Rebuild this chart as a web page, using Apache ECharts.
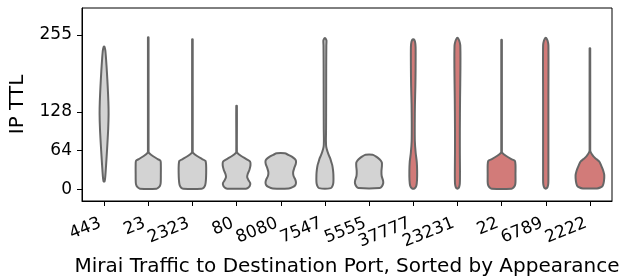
<!DOCTYPE html>
<html>
<head>
<meta charset="utf-8">
<script src="https://cdn.jsdelivr.net/npm/echarts@6/dist/echarts.min.js"></script>
<style>
html,body{margin:0;padding:0;background:#fff;}
#chart{width:627px;height:279px;}
</style>
</head>
<body>
<div id="chart"></div>
<script>
// Destination ports, in order of appearance
const categories = ['443','23','2323','80','8080','7547','5555','37777','23231','22','6789','2222'];
// group of each port: 0 = grey, 1 = red
const groups = [0,0,0,0,0,0,0,1,1,1,1,1];
// y axis tick labels
const yTicks = [0, 64, 128, 255];

// violin profiles: [TTL, density half-width (percent of category band)], from top to bottom
const v443 = [[236,0.7],[230,2.7],[215,4.5],[195,6.3],[170,8.2],[145,9.7],[125,10.2],[100,9.3],[75,7.5],[50,5.4],[30,3.6],[18,2.3],[13,0.9]];
const v23 = [[251,0.7],[62,0.7],[60,1.8],[55,10.2],[50,21.5],[47,27.8],[40,28.5],[25,28.5],[10,28.1],[5,26],[2.5,22.6],[1,19]];
const v2323 = [[248,0.7],[62,0.7],[60,1.8],[55,10.5],[50,22],[47,29.5],[40,31],[28,31.2],[15,30.5],[7,29],[3,26],[1,21]];
const v80 = [[138,0.7],[62,0.7],[60,1.8],[55,10.5],[50,22],[46,30.5],[40,31.5],[32,29],[25,25],[20,24],[15,27],[10,31],[5,29.5],[2,25],[1,21]];
const v8080 = [[59.5,9],[57,17],[54,25],[50,32],[47,34.5],[42,34],[35,30.5],[28,28],[22,29],[16,33],[11,34.5],[7,33],[4,28],[1.5,18]];
const v7547 = [[250,0.7],[246,3.5],[238,3.2],[200,2.9],[150,2.8],[100,2.6],[80,2.3],[70,3],[62,6],[56,9],[51,12],[45,14.5],[40,16.6],[32,18.3],[24,19.2],[12,19.2],[6,17.5],[2,13.5]];
const v5555 = [[57,8],[55,14],[52,20],[48,26],[44,29],[38,29],[30,28],[22,28.5],[15,31.5],[10,32],[5,29],[2,24]];
const v37777 = [[248,1],[244,4],[235,5.3],[200,5.3],[170,4.8],[140,3.8],[110,3.4],[80,3.6],[60,5.5],[45,8],[30,8.8],[15,8.5],[6,7],[1.5,3]];
const v23231 = [[250.5,0.8],[246,4],[238,6.5],[200,6.8],[150,6],[100,5.5],[60,5.5],[30,5.8],[10,5.5],[4,4],[1.5,1.5]];
const v22 = [[247,0.7],[62,0.7],[60,1.8],[55,10.5],[50,22],[47,30],[40,31.5],[25,31.5],[12,31.5],[7,30.5],[3,27],[1,22.5]];
const v6789 = [[250.5,0.8],[246,4],[238,6],[150,6],[80,6],[30,6],[10,5.8],[4,4.2],[1.5,1.5]];
const v2222 = [[233,0.7],[64,0.7],[62,1.5],[58,4.5],[54,8.5],[50,14.5],[45.6,21.5],[37,26.8],[30,30.5],[23,32.5],[13,31.7],[6,29],[3,23.5],[1.5,16]];

const profiles = [v443, v23, v2323, v80, v8080, v7547, v5555, v37777, v23231, v22, v6789, v2222];
const fills = ['#d3d3d3', '#d27b79'];

const chart = echarts.init(document.getElementById('chart'), null, {renderer: 'canvas'});
const font = 'DejaVu Sans';

function renderViolin(params, api) {
  const i = api.value(0);
  const prof = profiles[i];
  const cx = api.coord([i, 0])[0];
  const band = api.size([1, 0])[0];
  const right = [], left = [];
  for (const [t, w] of prof) {
    const y = api.coord([i, t])[1];
    const h = w / 100 * band;
    right.push([cx + h, y]);
    left.push([cx - h, y]);
  }
  const pts = right.concat(left.reverse());
  return {
    type: 'polygon',
    shape: {points: pts, smooth: 0.25},
    style: {fill: fills[groups[i]], stroke: '#666666', lineWidth: 2, lineJoin: 'round'}
  };
}

chart.setOption({
  animation: false,
  grid: {left: 82, right: 15, top: 8, bottom: 78, show: true, borderColor: '#000', borderWidth: 1,
         containLabel: false, outerBoundsMode: 'none'},
  xAxis: {
    type: 'category',
    data: categories,
    boundaryGap: true,
    axisLine: {show: true, onZero: false, lineStyle: {color: '#000', width: 1}},
    axisTick: {show: true, alignWithLabel: true, length: 5, lineStyle: {color: '#000'}},
    axisLabel: {rotate: 22, fontSize: 17, color: '#000', fontFamily: font, margin: 20, padding: [0, 4, 0, 0], interval: 0},
    name: 'Mirai Traffic to Destination Port, Sorted by Appearance',
    nameLocation: 'middle',
    nameGap: 56,
    nameTextStyle: {fontSize: 20, color: '#000', fontFamily: font}
  },
  yAxis: {
    type: 'value',
    min: -19.3,
    max: 299.7,
    splitLine: {show: false},
    axisLine: {show: true, lineStyle: {color: '#000', width: 1}},
    axisTick: {show: true, length: 5, customValues: yTicks, lineStyle: {color: '#000'}},
    axisLabel: {customValues: yTicks, fontSize: 17, color: '#000', fontFamily: font, margin: 10},
    name: 'IP TTL',
    nameLocation: 'middle',
    nameGap: 54,
    nameTextStyle: {fontSize: 20, color: '#000', fontFamily: font}
  },
  series: [{
    type: 'custom',
    renderItem: renderViolin,
    data: categories.map((c, i) => [i]),
    encode: {x: 0}
  }]
});
</script>
</body>
</html>
